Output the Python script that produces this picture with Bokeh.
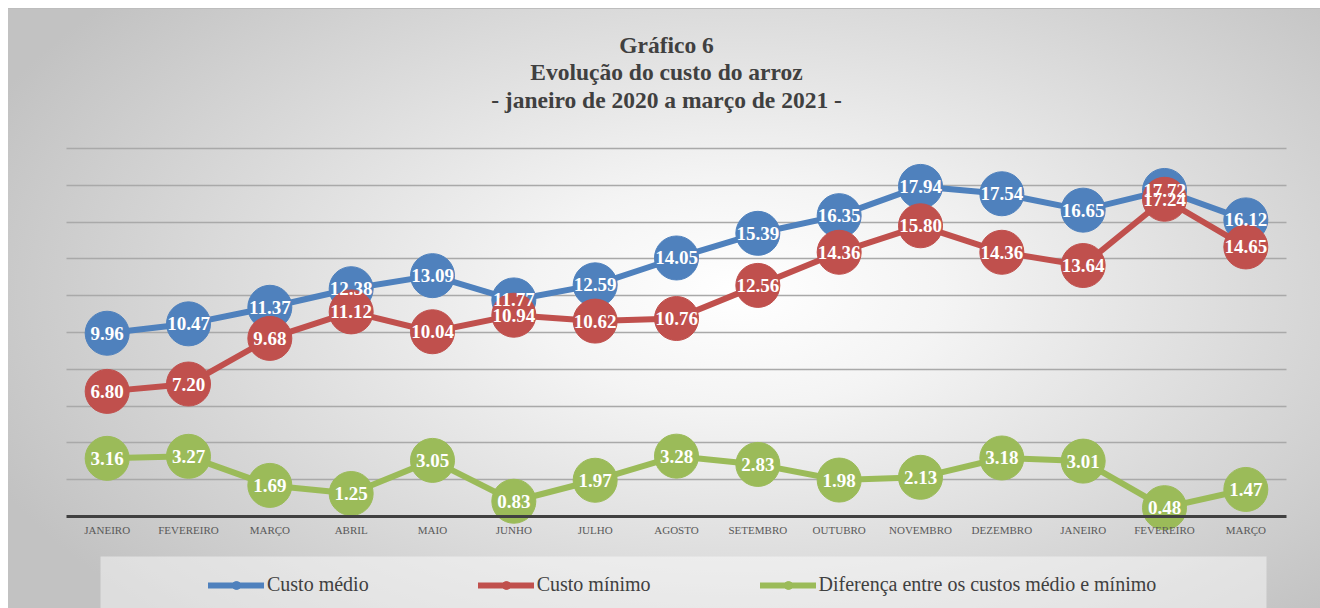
from bokeh.plotting import figure
from bokeh.models import (ColumnDataSource, FixedTicker, Legend, LegendItem, Label,
                          BoxAnnotation, Range1d)
from bokeh.embed import file_html
from bokeh.resources import INLINE

months = ["JANEIRO", "FEVEREIRO", "MARÇO", "ABRIL", "MAIO", "JUNHO", "JULHO",
          "AGOSTO", "SETEMBRO", "OUTUBRO", "NOVEMBRO", "DEZEMBRO", "JANEIRO",
          "FEVEREIRO", "MARÇO"]
custo_medio = [9.96, 10.47, 11.37, 12.38, 13.09, 11.77, 12.59, 14.05, 15.39,
               16.35, 17.94, 17.54, 16.65, 17.72, 16.12]
custo_minimo = [6.80, 7.20, 9.68, 11.12, 10.04, 10.94, 10.62, 10.76, 12.56,
                14.36, 15.80, 14.36, 13.64, 17.24, 14.65]
diferenca = [3.16, 3.27, 1.69, 1.25, 3.05, 0.83, 1.97, 3.28, 2.83, 1.98,
             2.13, 3.18, 3.01, 0.48, 1.47]
series_names = ["Custo médio", "Custo mínimo",
                "Diferença entre os custos médio e mínimo"]
colors = ["#4F81BD", "#C0504D", "#9BBB59"]
title_lines = ["Gráfico 6", "Evolução do custo do arroz",
               "- janeiro de 2020 a março de 2021 -"]
grid_ticks = [2, 4, 6, 8, 10, 12, 14, 16, 18, 20]

SERIF = "Liberation Serif"
xs = list(range(len(months)))
n = len(months)

W, H = 1320, 608
# plot area: x from 66 to 1286 px, y (value 0..20) from 516 to 148 px
ppx = (1286 - 66) / n
ppy = (516 - 148) / 20.0
x_range = Range1d(-0.5 - 66 / ppx, n - 0.5 + (W - 1286) / ppx)
y_range = Range1d(-(H - 516) / ppy, 20 + 148 / ppy)

p = figure(width=W, height=H, output_backend="svg", toolbar_location=None,
           x_range=x_range, y_range=y_range, title_location=None,
           min_border_left=0, min_border_right=0, min_border_top=0,
           min_border_bottom=0)
p.styles = {"background": ("linear-gradient(to right, #ffffff 0px, #ffffff 8px, transparent 8px), "
                           "linear-gradient(to bottom, #ffffff 0px, #ffffff 8px, #bdbdbd 8px, #bdbdbd 9px, transparent 9px), "
                           "radial-gradient(ellipse 62% 75% at 56% 48%, #ffffff 0%, #f4f4f4 25%, #c2c2c2 100%)")}
p.background_fill_alpha = 0
p.border_fill_alpha = 0
p.outline_line_color = None

p.yaxis.visible = False
p.xgrid.grid_line_color = None
yg = p.ygrid[0]
if "cross_bounds" in yg.properties():
    yg.ticker = FixedTicker(ticks=grid_ticks)
    yg.cross_bounds = (-0.5, n - 0.5)
    yg.grid_line_color = "#a9a9a9"
    yg.grid_line_width = 1.5
else:
    yg.grid_line_color = None
    p.segment(x0=[-0.5] * len(grid_ticks), x1=[n - 0.5] * len(grid_ticks),
              y0=grid_ticks, y1=grid_ticks, line_color="#a9a9a9",
              line_width=1.5, level="underlay")

ax = p.xaxis[0]
ax.fixed_location = 0
ax.bounds = (-0.5, n - 0.5)
ax.ticker = FixedTicker(ticks=xs)
ax.major_label_overrides = {i: m for i, m in enumerate(months)}
ax.axis_line_color = "#404040"
ax.axis_line_width = 3
ax.major_tick_line_color = None
ax.major_tick_out = 0
ax.major_tick_in = 0
ax.minor_tick_line_color = None
ax.major_label_standoff = 7
ax.major_label_text_font = SERIF
ax.major_label_text_font_size = "11px"
ax.major_label_text_color = "#595959"

# legend background panel (screen units, from frame bottom-left)
p.add_layout(BoxAnnotation(left=100, right=1266, bottom=-10, top=H - 556,
                           left_units="screen", right_units="screen",
                           bottom_units="screen", top_units="screen",
                           fill_color="#ffffff", fill_alpha=0.45,
                           line_color=None, level="underlay"))

items = []
sources = []
for vals, name, col in zip([custo_medio, custo_minimo, diferenca], series_names, colors):
    src = ColumnDataSource(dict(x=xs, y=vals, lbl=[f"{v:.2f}" for v in vals]))
    sources.append(src)
    ln = p.line("x", "y", source=src, line_color=col, line_width=6,
                line_join="round", line_cap="round")
    sc = p.scatter("x", "y", source=src, size=44, fill_color=col, line_color=col,
                   marker="circle")
    items.append(LegendItem(label=name, renderers=[ln, sc]))

for src in sources:
    p.text("x", "y", text="lbl", source=src, text_color="white",
           text_font=SERIF, text_font_style="bold", text_font_size="19px",
           text_align="center", text_baseline="middle")

legend = Legend(items=items, orientation="horizontal", location=(208, 12),
                glyph_width=56, glyph_height=20, label_standoff=3, spacing=109,
                padding=16, margin=0, background_fill_alpha=0,
                border_line_color=None,
                label_text_font=SERIF, label_text_font_size="20px",
                label_text_color="#404040")
p.add_layout(legend)

for line, yc in zip(title_lines, [44, 71, 99.5]):
    p.add_layout(Label(x=666, y=H - yc, x_units="screen", y_units="screen",
                       text=line, text_align="center", text_baseline="middle",
                       text_font=SERIF, text_font_style="bold",
                       text_font_size="23.5px", text_color="#404040"))

open("out.html", "w").write(file_html(p, INLINE))
